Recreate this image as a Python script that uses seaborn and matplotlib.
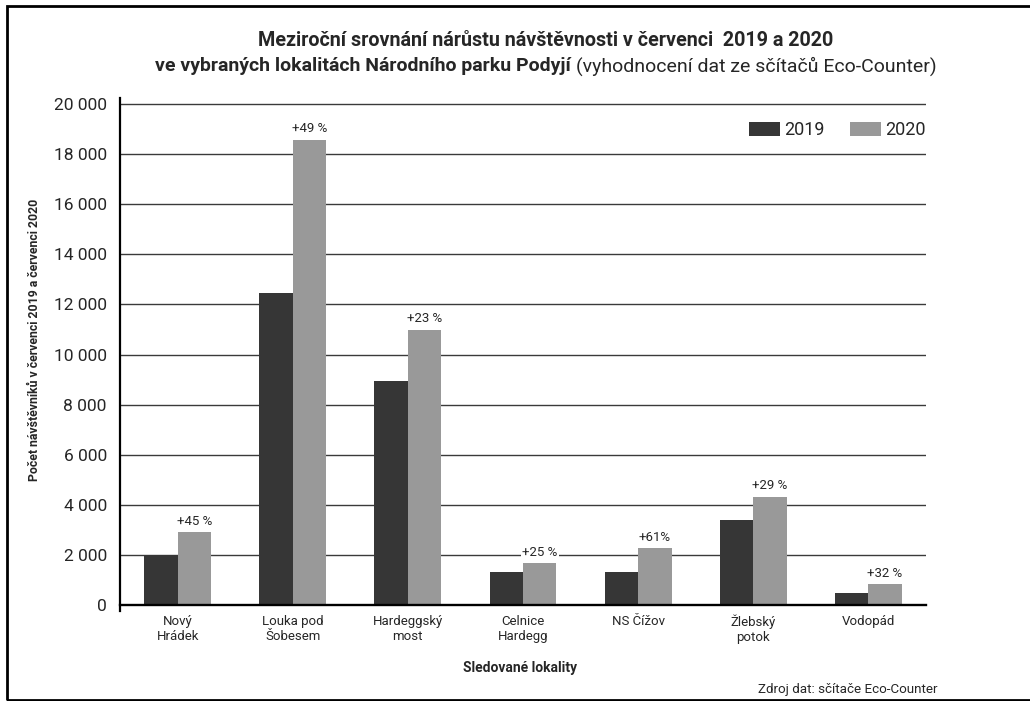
import matplotlib
matplotlib.use('Agg')
import matplotlib.pyplot as plt
import matplotlib.patches as mpatches
import pandas as pd
import seaborn as sns

# Data
locations = ["Nový\nHrádek", "Louka pod\nŠobesem", "Hardeggský\nmost", "Celnice\nHardegg",
             "NS Čížov", "Žlebský\npotok", "Vodopád"]
visits_2019 = [2000, 12450, 8950, 1310, 1300, 3400, 490]
visits_2020 = [2900, 18580, 11000, 1690, 2290, 4330, 840]
growth_labels = ["+45 %", "+49 %", "+23 %", "+25 %", "+61%", "+29 %", "+32 %"]
years = ["2019", "2020"]
colors = ["#363636", "#999999"]
y_ticks = [0, 2000, 4000, 6000, 8000, 10000, 12000, 14000, 16000, 18000, 20000]

df = pd.DataFrame({
    "lokalita": locations * 2,
    "rok": [years[0]] * len(locations) + [years[1]] * len(locations),
    "pocet": visits_2019 + visits_2020,
})

sns.set_theme(style="white")
plt.rcParams['font.family'] = ['Roboto', 'DejaVu Sans']

fig = plt.figure(figsize=(10.30, 7.01), dpi=100)
ax = fig.add_axes([120 / 1030, 1 - 611.3 / 701, 806 / 1030, 513.5 / 701])

sns.barplot(data=df, x="lokalita", y="pocet", hue="rok", hue_order=years,
            palette=dict(zip(years, colors)), width=0.58, saturation=1,
            linewidth=0, ax=ax, zorder=3, legend=True)

ax.set_ylim(-250, 20250)
ax.set_xlim(-0.5, 6.5)
ax.set_yticks(y_ticks)
ax.set_yticklabels([f"{v:,}".replace(",", " ") for v in y_ticks], fontsize=12.5)
ax.yaxis.grid(True, color="#3a3a3a", linewidth=1.0, zorder=0)
ax.set_axisbelow(True)
for g in ax.get_ygridlines()[:1]:
    g.set_visible(False)

ax.tick_params(axis="y", length=5, width=1.5, pad=4.5, color="black")
for t in ax.yaxis.get_major_ticks()[1:]:
    t.tick1line.set_visible(False)
ax.tick_params(axis="x", length=0, pad=7, labelsize=9.5)

for side in ["top", "right"]:
    ax.spines[side].set_visible(False)
ax.spines["left"].set_linewidth(1.6)
ax.spines["left"].set_color("black")
ax.spines["bottom"].set_position(("data", 0))
ax.spines["bottom"].set_linewidth(1.7)
ax.spines["bottom"].set_color("black")
ax.spines["bottom"].set_zorder(4)

ax.set_xlabel("")
ax.set_ylabel("Počet návštěvníků v červenci 2019 a červenci 2020", fontsize=8.8,
              fontweight="bold")
ax.yaxis.set_label_coords(-0.098, 0.528)

# growth labels above 2020 bars
for bar, lab in zip(ax.containers[1], growth_labels):
    ax.annotate(lab, (bar.get_x() + bar.get_width() / 2, bar.get_height()),
                xytext=(0, 3), textcoords="offset points", ha="center", va="bottom",
                fontsize=9.5, zorder=5,
                bbox=dict(boxstyle="square,pad=0.1", fc="white", ec="none"))

leg = ax.legend(loc="center right", bbox_to_anchor=(1.0, 0.937), bbox_transform=ax.transAxes,
                ncol=2, frameon=False, fontsize=13, handlelength=1.72, handleheight=0.83,
                handletextpad=0.25, columnspacing=1.4, borderpad=0, borderaxespad=0)

# title: first line bold, second line mixed bold / regular
title_x = 546 / 1030
fig.text(title_x, 1 - 41 / 701, "Meziroční srovnání nárůstu návštěvnosti v červenci  2019 a 2020",
         ha="center", va="center", fontsize=14.2, fontweight="bold")
part_bold = "ve vybraných lokalitách Národního parku Podyjí "
part_reg = "(vyhodnocení dat ze sčítačů Eco-Counter)"
t_b = fig.text(0, 1 - 66 / 701, part_bold, ha="left", va="center", fontsize=14, fontweight="bold")
t_r = fig.text(0, 1 - 66 / 701, part_reg, ha="left", va="center", fontsize=14)
fig.canvas.draw()
r = fig.canvas.get_renderer()
w_b = t_b.get_window_extent(r).width / fig.bbox.width
w_r = t_r.get_window_extent(r).width / fig.bbox.width
x0 = title_x - (w_b + w_r) / 2
t_b.set_x(x0)
t_r.set_x(x0 + w_b)

fig.text(520 / 1030, 1 - 668 / 701, "Sledované lokality", ha="center", va="center",
         fontsize=10, fontweight="bold")
fig.text(938 / 1030, 1 - 690 / 701, "Zdroj dat: sčítače Eco-Counter", ha="right", va="center",
         fontsize=9.6)

# outer frame, right side runs off the picture
frame = mpatches.Rectangle((7.3 / 1030, 0.6 / 701), 1.1, 694.4 / 701, transform=fig.transFigure,
                           fill=False, ec="black", lw=2.0, clip_on=False)
fig.patches.append(frame)

fig.savefig("out.png", dpi=100, facecolor="white")
